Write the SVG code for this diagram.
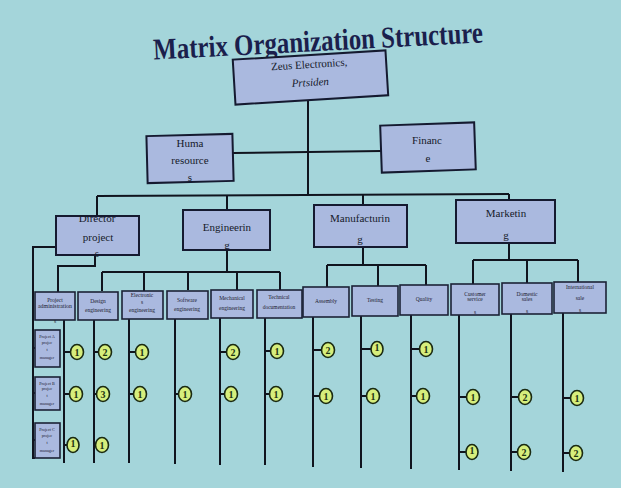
<svg xmlns="http://www.w3.org/2000/svg" width="621" height="488" viewBox="0 0 621 488">
<style>
.bx{fill:#aab9df;stroke:#151a30;stroke-width:2}
.sb{fill:#aab9df;stroke:#1c2236;stroke-width:1.6}
.t{font-family:"Liberation Serif",serif;font-size:11px;fill:#161a2a;text-anchor:middle}
.s{font-family:"Liberation Serif",serif;font-size:5.5px;fill:#1c2030;text-anchor:middle}
.p{font-family:"Liberation Serif",serif;font-size:4.2px;fill:#1c2030;text-anchor:middle}
.ln{fill:none;stroke:#10141e;stroke-width:2}
.c{fill:#d6ee7c;stroke:#1a2a12;stroke-width:1.6}
.n{font-family:"Liberation Serif",serif;font-size:10px;font-weight:bold;fill:#1d3512;text-anchor:middle}
</style>
<rect width="621" height="488" fill="#a4d5da"/>
<text id="title" x="318" y="51" transform="rotate(-3 318 40)" font-family="Liberation Serif, serif" font-weight="bold" font-size="30" fill="#1b1f4d" text-anchor="middle" textLength="330" lengthAdjust="spacingAndGlyphs">Matrix Organization Structure</text>

<g id="connectors" class="ln">
<path d="M308 100V195"/>
<path d="M233 153L381 151"/>
<path d="M97 196L509 194"/>
<path d="M97 196V216M227 195V210M363 195V205M509 194V200"/>
<path d="M95 255V266H58V292"/>
<path d="M56 247H33V458H35M33 348H35M33 393H35M33 440H35"/>
<path d="M227 250V272M102 272H280M102 272V291M144 272V291M188 272V290M237 272V290M280 272V290"/>
<path d="M363 247V265M327 265H426M327 265V287M378 265V286M426 265V285"/>
<path d="M509 243V260M473 260H578M473 260V284M527 260V283M578 260V282"/>
<path d="M64 320V463M94 320V463M129 319V463M175 319V464M220 318V465M265 318V465M313 317V467M361 316V468M411 315V469M459 315V470M511 314V471M563 313V472"/>
<path d="M64 352H71M94 352H99M129 352H136M220 352H227M265 351H271M313 350H322M361 349H371M411 349H420"/>
<path d="M64 394H70M94 394H97M129 394H134M175 394H179M220 394H225M265 394H270M313 396H320M361 396H367M411 396H417M459 397H467M511 397H519M563 398H571"/>
<path d="M64 445H67M94 445H96M459 452H466M511 452H518M563 453H570"/>
</g>

<g id="president">
<rect class="bx" x="234" y="55" width="153" height="45" transform="rotate(-3.5 310 78)"/>
<text class="t" x="310" y="68" transform="rotate(-3.5 310 78)" font-size="11.5">Zeus Electronics,</text>
<text class="t" x="310" y="86" transform="rotate(-3.5 310 78)" font-style="italic" font-size="11.5">Prtsiden</text>
</g>
<g id="hr">
<rect class="bx" x="147" y="135" width="86" height="47" transform="rotate(-1.5 190 158)"/>
<text class="t" x="190" y="147">Huma</text>
<text class="t" x="190" y="164">resource</text>
<text class="t" x="190" y="181">s</text>
</g>
<g id="finance">
<rect class="bx" x="381" y="124" width="94" height="47" transform="rotate(-2 428 148)"/>
<text class="t" x="427" y="144">Financ</text>
<text class="t" x="428" y="162">e</text>
</g>
<g id="director">
<rect class="bx" x="56" y="216" width="83" height="39"/>
<text class="t" x="97" y="222">Director</text>
<text class="t" x="98" y="241">project</text>
<text class="t" x="97" y="257">s</text>
</g>
<g id="engineering">
<rect class="bx" x="183" y="210" width="87" height="40"/>
<text class="t" x="227" y="231">Engineerin</text>
<text class="t" x="227" y="249">g</text>
</g>
<g id="manufacturing">
<rect class="bx" x="314" y="205" width="93" height="42"/>
<text class="t" x="360" y="222">Manufacturin</text>
<text class="t" x="360" y="243">g</text>
</g>
<g id="marketing">
<rect class="bx" x="456" y="200" width="99" height="43"/>
<text class="t" x="506" y="217">Marketin</text>
<text class="t" x="506" y="239">g</text>
</g>

<g id="project-admin"><rect class="sb" x="35" y="292" width="40" height="28"/><text class="s" x="55" y="302">Project</text><text class="s" x="55" y="308" textLength="34" lengthAdjust="spacingAndGlyphs">administration</text><text class="s" x="55" y="323">s</text></g>
<g id="design"><rect class="sb" x="78" y="292" width="40" height="28"/><text class="s" x="98" y="303">Design</text><text class="s" x="98" y="312">engineering</text></g>
<g id="electronic"><rect class="sb" x="122" y="291" width="41" height="28"/><text class="s" x="142" y="297">Electronic</text><text class="s" x="142" y="304">s</text><text class="s" x="142" y="312">engineering</text></g>
<g id="software"><rect class="sb" x="167" y="291" width="41" height="28"/><text class="s" x="187" y="302">Software</text><text class="s" x="187" y="311">engineering</text></g>
<g id="mechanical"><rect class="sb" x="211" y="290" width="42" height="28"/><text class="s" x="232" y="300">Mechanical</text><text class="s" x="232" y="310">engineering</text></g>
<g id="technical"><rect class="sb" x="257" y="290" width="45" height="28"/><text class="s" x="279" y="299">Technical</text><text class="s" x="279" y="309">documentation</text></g>
<g id="assembly"><rect class="sb" x="303" y="287" width="46" height="30"/><text class="s" x="326" y="303">Assembly</text></g>
<g id="testing"><rect class="sb" x="352" y="286" width="46" height="30"/><text class="s" x="375" y="302">Testing</text></g>
<g id="quality"><rect class="sb" x="400" y="285" width="48" height="30"/><text class="s" x="424" y="301">Quality</text></g>
<g id="customer"><rect class="sb" x="451" y="284" width="48" height="31"/><text class="s" x="475" y="296">Customer</text><text class="s" x="475" y="301">service</text><text class="s" x="475" y="314">s</text></g>
<g id="domestic"><rect class="sb" x="502" y="283" width="50" height="31"/><text class="s" x="527" y="296">Domestic</text><text class="s" x="527" y="301">sales</text><text class="s" x="527" y="313">s</text></g>
<g id="international"><rect class="sb" x="554" y="282" width="52" height="31"/><text class="s" x="580" y="289">International</text><text class="s" x="580" y="300">sale</text><text class="s" x="580" y="312">s</text></g>

<g id="project-a"><rect class="sb" x="35" y="330" width="25" height="37"/><text class="p" x="47" y="338">Project A</text><text class="p" x="47" y="344">projec</text><text class="p" x="47" y="351">t</text><text class="p" x="47" y="359">manager</text></g>
<g id="project-b"><rect class="sb" x="35" y="377" width="25" height="33"/><text class="p" x="47" y="385">Project B</text><text class="p" x="47" y="390">projec</text><text class="p" x="47" y="397">t</text><text class="p" x="47" y="405">manager</text></g>
<g id="project-c"><rect class="sb" x="35" y="423" width="25" height="35"/><text class="p" x="47" y="431">Project C</text><text class="p" x="47" y="437">projec</text><text class="p" x="47" y="444">t</text><text class="p" x="47" y="452">manager</text></g>

<g id="counts">
<ellipse class="c" cx="77" cy="352" rx="6.5" ry="7.5"/><text class="n" x="77" y="355.5">1</text>
<ellipse class="c" cx="76" cy="394" rx="6.5" ry="7.5"/><text class="n" x="76" y="397.5">1</text>
<ellipse class="c" cx="73" cy="445" rx="6" ry="7.5"/><text class="n" x="73" y="447" font-size="6">1</text>
<ellipse class="c" cx="105" cy="352" rx="6.5" ry="7.5"/><text class="n" x="105" y="355.5">2</text>
<ellipse class="c" cx="103" cy="394" rx="6.5" ry="7.5"/><text class="n" x="103" y="397.5">3</text>
<ellipse class="c" cx="102" cy="445" rx="6.5" ry="7.5"/><text class="n" x="102" y="448.5">1</text>
<ellipse class="c" cx="142" cy="352" rx="6.5" ry="7.5"/><text class="n" x="142" y="355.5">1</text>
<ellipse class="c" cx="140" cy="394" rx="6.5" ry="7.5"/><text class="n" x="140" y="397.5">1</text>
<ellipse class="c" cx="185" cy="394" rx="6.5" ry="7.5"/><text class="n" x="185" y="397.5">1</text>
<ellipse class="c" cx="233" cy="352" rx="6.5" ry="7.5"/><text class="n" x="233" y="355.5">2</text>
<ellipse class="c" cx="231" cy="394" rx="6.5" ry="7.5"/><text class="n" x="231" y="397.5">1</text>
<ellipse class="c" cx="277" cy="351" rx="6.5" ry="7.5"/><text class="n" x="277" y="354.5">1</text>
<ellipse class="c" cx="276" cy="394" rx="6.5" ry="7.5"/><text class="n" x="276" y="397.5">1</text>
<ellipse class="c" cx="328" cy="350" rx="6.5" ry="7.5"/><text class="n" x="328" y="353.5">2</text>
<ellipse class="c" cx="326" cy="396" rx="6.5" ry="7.5"/><text class="n" x="326" y="399.5">1</text>
<ellipse class="c" cx="377" cy="349" rx="6" ry="7.5"/><text class="n" x="377" y="351" font-size="6">1</text>
<ellipse class="c" cx="373" cy="396" rx="6.5" ry="7.5"/><text class="n" x="373" y="399.5">1</text>
<ellipse class="c" cx="426" cy="349" rx="6.5" ry="7.5"/><text class="n" x="426" y="352.5">1</text>
<ellipse class="c" cx="423" cy="396" rx="6.5" ry="7.5"/><text class="n" x="423" y="399.5">1</text>
<ellipse class="c" cx="473" cy="397" rx="6.5" ry="7.5"/><text class="n" x="473" y="400.5">1</text>
<ellipse class="c" cx="472" cy="452" rx="6" ry="7.5"/><text class="n" x="472" y="454" font-size="6">1</text>
<ellipse class="c" cx="525" cy="397" rx="6.5" ry="7.5"/><text class="n" x="525" y="400.5">2</text>
<ellipse class="c" cx="524" cy="452" rx="6.5" ry="7.5"/><text class="n" x="524" y="455.5">2</text>
<ellipse class="c" cx="577" cy="398" rx="6.5" ry="7.5"/><text class="n" x="577" y="401.5">1</text>
<ellipse class="c" cx="576" cy="453" rx="6.5" ry="7.5"/><text class="n" x="576" y="456.5">2</text>
</g>
</svg>
